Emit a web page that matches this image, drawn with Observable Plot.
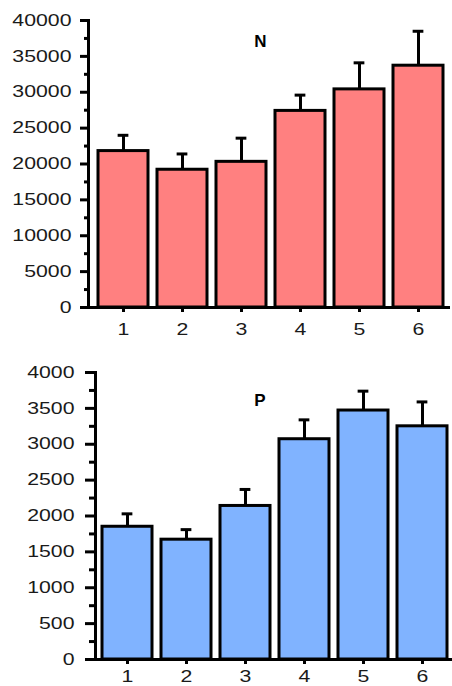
<!DOCTYPE html>
<html>
<head>
<meta charset="utf-8">
<script src="https://cdn.jsdelivr.net/npm/d3@7"></script>
<script src="https://cdn.jsdelivr.net/npm/@observablehq/plot@0.6"></script>
<style>
  html, body { margin: 0; padding: 0; background: white; }
  svg { display: block; }
</style>
</head>
<body>
<div id="chart"></div>
<script>
// Groups along the x axis
const categories = ["1", "2", "3", "4", "5", "6"];

// N panel: group means and their errors (drawn upward only)
const nMeans = [21800, 19200, 20300, 27400, 30400, 33700];
const nErrors = [2200, 2200, 3300, 2200, 3700, 4800];
const nTicks = [0, 5000, 10000, 15000, 20000, 25000, 30000, 35000, 40000];
const nMinorTicks = [2500, 7500, 12500, 17500, 22500, 27500, 32500, 37500];

// P panel
const pMeans = [1850, 1670, 2140, 3070, 3470, 3250];
const pErrors = [180, 140, 230, 270, 270, 340];
const pTicks = [0, 500, 1000, 1500, 2000, 2500, 3000, 3500, 4000];
const pMinorTicks = [250, 750, 1250, 1750, 2250, 2750, 3250, 3750];

const WIDTH = 452;
const PAD_INNER = 0.16;
const CAP = 11;

// Widen the tick label glyphs horizontally around their anchor point
function stretchTickLabels(svg, k) {
  svg.querySelectorAll('g[aria-label$="tick label"] text').forEach((t) => {
    const tr = t.getAttribute("transform") || "";
    t.setAttribute("transform", `${tr} scale(${k},1)`);
  });
}

function panel(o) {
  const rows = categories.map((c, i) => ({
    cat: c,
    mean: o.means[i],
    upper: o.means[i] + o.errors[i]
  }));
  const range = WIDTH - o.marginLeft - o.marginRight - o.xInsetLeft - o.xInsetRight;
  const step = range / categories.length;
  const bw = step * (1 - PAD_INNER);
  const capInset = (bw - CAP) / 2;

  const svg = Plot.plot({
    width: WIDTH,
    height: o.height,
    marginTop: o.marginTop,
    marginBottom: o.marginBottom,
    marginLeft: o.marginLeft,
    marginRight: o.marginRight,
    style: {
      fontFamily: "'Liberation Sans', Arial, sans-serif",
      fontSize: "16px",
      color: "black",
      background: "white",
      overflow: "visible"
    },
    x: {
      domain: categories,
      paddingInner: PAD_INNER,
      paddingOuter: PAD_INNER / 2,
      insetLeft: o.xInsetLeft,
      insetRight: o.xInsetRight,
      axis: null,
      label: null
    },
    y: { domain: [0, o.yMax], axis: null, label: null },
    marks: [
      Plot.barY(rows, { x: "cat", y: "mean", fill: o.fill, stroke: "black", strokeWidth: 3 }),
      Plot.ruleX(rows, { x: "cat", y1: "mean", y2: "upper", stroke: "black", strokeWidth: 3 }),
      Plot.tickY(rows, { x: "cat", y: "upper", stroke: "black", strokeWidth: 3, inset: capInset }),
      Plot.frame({ anchor: "left", stroke: "black", strokeWidth: 3 }),
      Plot.ruleY([0], { stroke: "black", strokeWidth: 3, insetLeft: -o.tickSize }),
      Plot.axisY(o.major, {
        tickSize: o.tickSize,
        tickPadding: o.tickPadding,
        tickFormat: (d) => String(d),
        strokeWidth: 3,
        fontSize: 16,
        fill: "#1a1a1a"
      }),
      Plot.axisY(o.minor, { tickSize: o.minorSize, tickFormat: () => "", strokeWidth: 3 }),
      Plot.axisX({ tickSize: 5, tickPadding: o.xTickPadding, strokeWidth: 3, fontSize: 16, fill: "#1a1a1a" }),
      Plot.text([o.title], {
        frameAnchor: "top",
        dx: o.titleDx,
        dy: o.titleDy,
        fontWeight: "bold",
        fontSize: 17
      })
    ]
  });
  stretchTickLabels(svg, 1.33);
  return svg;
}

const root = document.getElementById("chart");

root.append(panel({
  means: nMeans, errors: nErrors, fill: "#ff8080", title: "N",
  yMax: 40000, major: nTicks, minor: nMinorTicks,
  height: 345, marginTop: 20, marginBottom: 38, marginLeft: 88, marginRight: 2,
  xInsetLeft: 3, xInsetRight: 0,
  tickSize: 8, minorSize: 4, tickPadding: 9, xTickPadding: 11,
  titleDx: -9, titleDy: 14
}));

root.append(panel({
  means: pMeans, errors: pErrors, fill: "#80b3ff", title: "P",
  yMax: 4000, major: pTicks, minor: pMinorTicks,
  height: 341, marginTop: 27, marginBottom: 27, marginLeft: 95, marginRight: 0,
  xInsetLeft: 0, xInsetRight: -2,
  tickSize: 10, minorSize: 6, tickPadding: 11, xTickPadding: 6,
  titleDx: -14, titleDy: 21
}));
</script>
</body>
</html>
